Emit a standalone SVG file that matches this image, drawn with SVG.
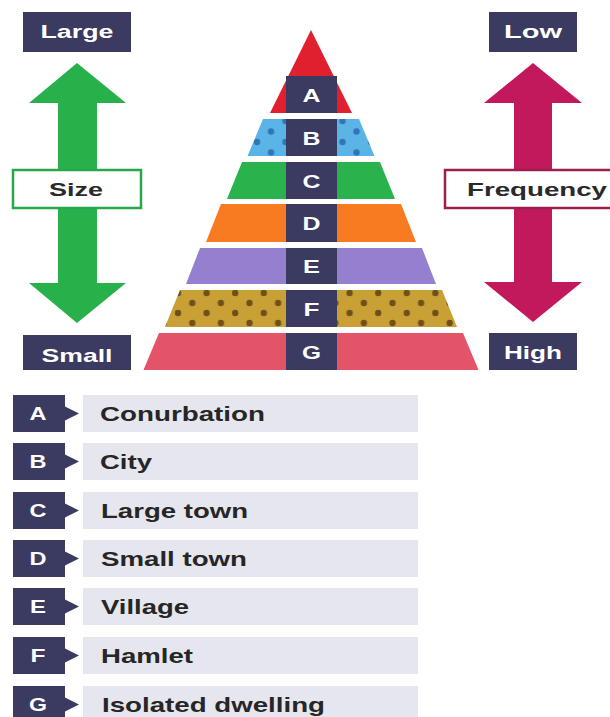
<svg xmlns="http://www.w3.org/2000/svg" width="610" height="717" viewBox="0 0 610 717">
<style>
.nv{fill:#3b3a60}
.lt{fill:#e6e6ee}
.wt{fill:#ffffff;font-family:"Liberation Sans",Arial,sans-serif;font-weight:bold;font-size:19px;text-anchor:middle}
.dk{fill:#262626;font-family:"Liberation Sans",Arial,sans-serif;font-weight:bold;font-size:21px}
.dkc{fill:#2a2a2a;font-family:"Liberation Sans",Arial,sans-serif;font-weight:bold;font-size:19px;text-anchor:middle}
</style>
<defs>
<pattern id="dotB" patternUnits="userSpaceOnUse" width="28.5" height="21" x="250" y="116">
<rect width="28.5" height="21" fill="#5ab4e6"/>
<circle cx="7" cy="5" r="3.2" fill="#2f76b8"/>
<circle cx="21" cy="15.5" r="3.2" fill="#2f76b8"/>
</pattern>
<pattern id="dotF" patternUnits="userSpaceOnUse" width="28.6" height="20" x="199.6" y="288">
<rect width="28.6" height="20" fill="#c9a035"/>
<circle cx="7" cy="5" r="3.2" fill="#70501a"/>
<circle cx="21.3" cy="15" r="3.2" fill="#70501a"/>
</pattern>
</defs>

<g id="size-axis">
<polygon points="77,63 126,103 97,103 97,283 126,283 77,323 29,283 58,283 58,103 29,103" fill="#28b04b"/>
<rect x="13" y="170" width="128" height="38" fill="#ffffff" stroke="#28a64a" stroke-width="2.5"/>
<text class="dkc" x="76" y="196" textLength="54" lengthAdjust="spacingAndGlyphs">Size</text>
</g>
<g id="label-large">
<rect class="nv" x="23" y="12" width="108" height="40"/>
<text class="wt" x="77" y="38" textLength="73" lengthAdjust="spacingAndGlyphs">Large</text>
</g>
<g id="label-small">
<rect class="nv" x="23" y="335" width="108" height="35"/>
<text class="wt" x="77" y="362" textLength="71" lengthAdjust="spacingAndGlyphs">Small</text>
</g>

<g id="frequency-axis">
<polygon points="533,63 582,103 552,103 552,282 582,282 533,322 484,282 514,282 514,103 484,103" fill="#c2185c"/>
<rect x="445" y="170" width="175" height="38" fill="#ffffff" stroke="#9c1f4c" stroke-width="2.5"/>
<text class="dkc" x="537" y="196" textLength="140" lengthAdjust="spacingAndGlyphs">Frequency</text>
</g>
<g id="label-low">
<rect class="nv" x="489" y="12" width="88" height="40"/>
<text class="wt" x="533" y="38" textLength="58" lengthAdjust="spacingAndGlyphs">Low</text>
</g>
<g id="label-high">
<rect class="nv" x="489" y="333" width="88" height="37"/>
<text class="wt" x="533" y="359" textLength="58" lengthAdjust="spacingAndGlyphs">High</text>
</g>

<g id="pyramid">
<g id="band-a">
<polygon points="311,30 352,113 270,113" fill="#e0202e"/>
<rect class="nv" x="286" y="76" width="51" height="37"/>
<text class="wt" x="311.5" y="102" textLength="18" lengthAdjust="spacingAndGlyphs">A</text>
</g>
<g id="band-b">
<polygon points="263,119 359,119 374.5,156 247.5,156" fill="url(#dotB)"/>
<rect class="nv" x="286" y="119" width="51" height="37"/>
<text class="wt" x="311.5" y="145" textLength="18" lengthAdjust="spacingAndGlyphs">B</text>
</g>
<g id="band-c">
<polygon points="242,162 380,162 395,199 227,199" fill="#2ab24c"/>
<rect class="nv" x="286" y="162" width="51" height="37"/>
<text class="wt" x="311.5" y="188" textLength="18" lengthAdjust="spacingAndGlyphs">C</text>
</g>
<g id="band-d">
<polygon points="221,204 401,204 416,242 206,242" fill="#f87b22"/>
<rect class="nv" x="286" y="204" width="51" height="38"/>
<text class="wt" x="311.5" y="230" textLength="18" lengthAdjust="spacingAndGlyphs">D</text>
</g>
<g id="band-e">
<polygon points="200,248 422,248 436,284 186,284" fill="#9580cf"/>
<rect class="nv" x="286" y="248" width="51" height="36"/>
<text class="wt" x="311.5" y="273" textLength="17" lengthAdjust="spacingAndGlyphs">E</text>
</g>
<g id="band-f">
<polygon points="180,290 442,290 457,327 165,327" fill="url(#dotF)"/>
<rect class="nv" x="286" y="290" width="51" height="37"/>
<text class="wt" x="311.5" y="316" textLength="16" lengthAdjust="spacingAndGlyphs">F</text>
</g>
<g id="band-g">
<polygon points="159,333 463,333 478.5,370 143.5,370" fill="#e35468"/>
<rect class="nv" x="286" y="333" width="51" height="37"/>
<text class="wt" x="311.5" y="359" textLength="19" lengthAdjust="spacingAndGlyphs">G</text>
</g>
</g>

<g id="legend">
<g id="legend-a">
<rect class="nv" x="13" y="395" width="52" height="37"/>
<polygon class="nv" points="65,406.5 79,413.5 65,420.5"/>
<rect class="lt" x="83" y="395" width="335" height="37"/>
<text class="wt" x="38" y="420" textLength="17" lengthAdjust="spacingAndGlyphs">A</text>
<text class="dk" x="100" y="421" textLength="165" lengthAdjust="spacingAndGlyphs">Conurbation</text>
</g>
<g id="legend-b">
<rect class="nv" x="13" y="443" width="52" height="37"/>
<polygon class="nv" points="65,454.5 79,461.5 65,468.5"/>
<rect class="lt" x="83" y="443" width="335" height="37"/>
<text class="wt" x="38" y="468" textLength="17" lengthAdjust="spacingAndGlyphs">B</text>
<text class="dk" x="100" y="469" textLength="52" lengthAdjust="spacingAndGlyphs">City</text>
</g>
<g id="legend-c">
<rect class="nv" x="13" y="492" width="52" height="37"/>
<polygon class="nv" points="65,503.5 79,510.5 65,517.5"/>
<rect class="lt" x="83" y="492" width="335" height="37"/>
<text class="wt" x="38" y="517" textLength="17" lengthAdjust="spacingAndGlyphs">C</text>
<text class="dk" x="101" y="518" textLength="147" lengthAdjust="spacingAndGlyphs">Large town</text>
</g>
<g id="legend-d">
<rect class="nv" x="13" y="540" width="52" height="37"/>
<polygon class="nv" points="65,551.5 79,558.5 65,565.5"/>
<rect class="lt" x="83" y="540" width="335" height="37"/>
<text class="wt" x="38" y="565" textLength="17" lengthAdjust="spacingAndGlyphs">D</text>
<text class="dk" x="101" y="566" textLength="146" lengthAdjust="spacingAndGlyphs">Small town</text>
</g>
<g id="legend-e">
<rect class="nv" x="13" y="588" width="52" height="37"/>
<polygon class="nv" points="65,599.5 79,606.5 65,613.5"/>
<rect class="lt" x="83" y="588" width="335" height="37"/>
<text class="wt" x="38" y="613" textLength="16" lengthAdjust="spacingAndGlyphs">E</text>
<text class="dk" x="101" y="614" textLength="88" lengthAdjust="spacingAndGlyphs">Village</text>
</g>
<g id="legend-f">
<rect class="nv" x="13" y="637" width="52" height="37"/>
<polygon class="nv" points="65,648.5 79,655.5 65,662.5"/>
<rect class="lt" x="83" y="637" width="335" height="37"/>
<text class="wt" x="38" y="662" textLength="15" lengthAdjust="spacingAndGlyphs">F</text>
<text class="dk" x="101" y="663" textLength="92" lengthAdjust="spacingAndGlyphs">Hamlet</text>
</g>
<g id="legend-g">
<rect class="nv" x="13" y="686" width="52" height="37"/>
<polygon class="nv" points="65,697.5 79,704.5 65,711.5"/>
<rect class="lt" x="83" y="686" width="335" height="37"/>
<text class="wt" x="38" y="711" textLength="18" lengthAdjust="spacingAndGlyphs">G</text>
<text class="dk" x="102" y="712" textLength="223" lengthAdjust="spacingAndGlyphs">Isolated dwelling</text>
</g>
</g>
<g id="connectors"></g>
</svg>
